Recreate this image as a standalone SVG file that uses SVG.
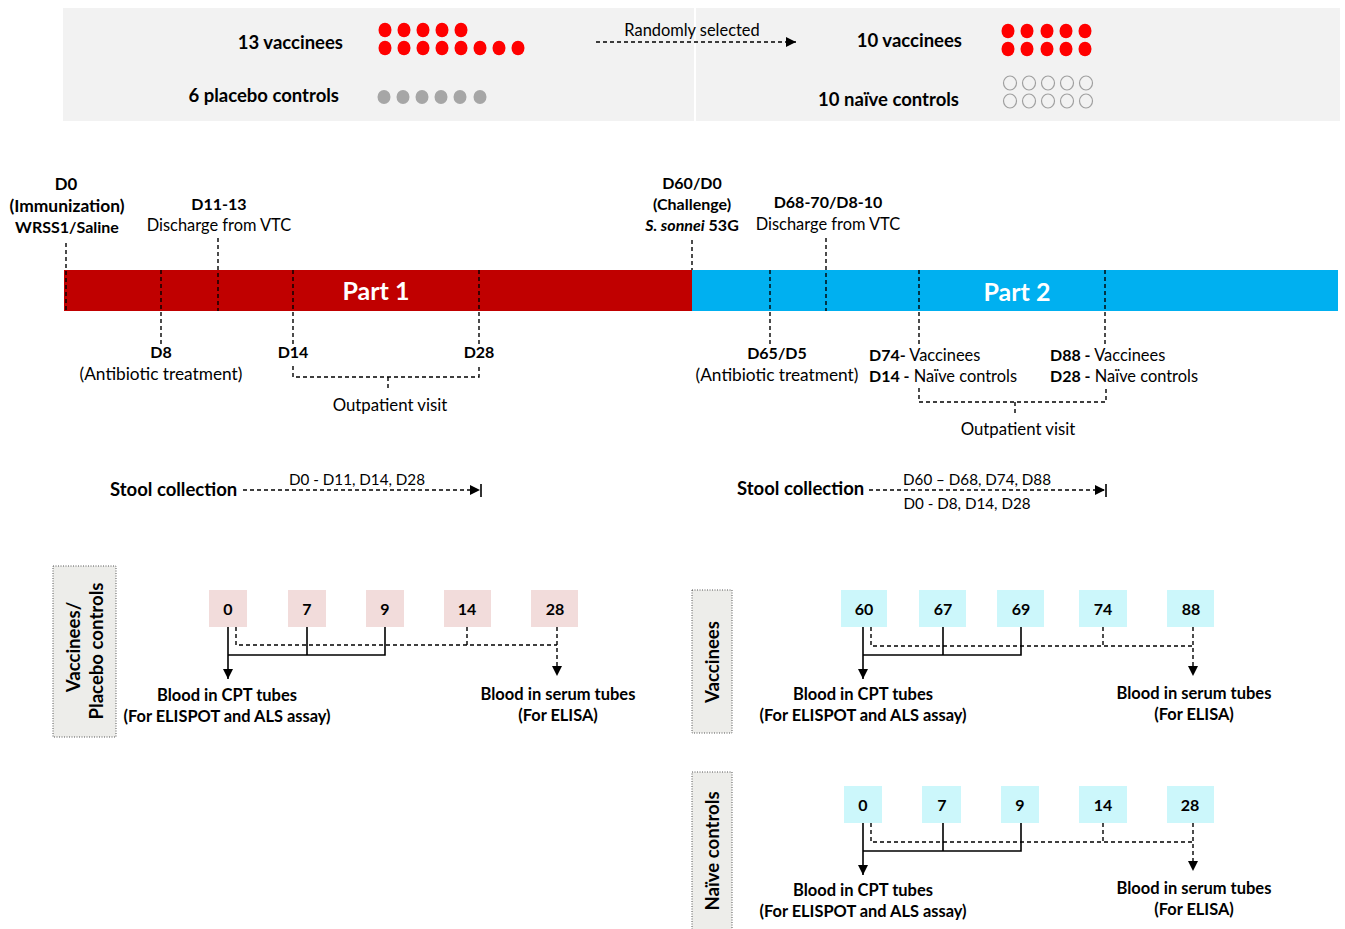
<svg xmlns="http://www.w3.org/2000/svg" width="1345" height="929" viewBox="0 0 1345 929">
<defs>
<style>
text{font-family:Lato,"Open Sans","Liberation Sans",sans-serif;fill:#000}
.b{font-weight:bold;font-size:16px}
.bl{font-weight:bold;font-size:18.5px}
.r{font-size:16.4px}
.s{font-size:15.2px}
.mid{text-anchor:middle}
.end{text-anchor:end}
.dash{stroke:#000;stroke-width:1.4;stroke-dasharray:4 3;fill:none}
.sol{stroke:#000;stroke-width:1.6;fill:none}
.red{fill:#ff0000}
.gry{fill:#a6a6a6}
.open{fill:none;stroke:#a0a0a0;stroke-width:1.2}
.lab{fill:#ededea;stroke:#555;stroke-width:1;stroke-dasharray:1 1.5}
.pk{fill:#f2dcdb}
.cy{fill:#ccf7fb}
</style>
<marker id="ah" viewBox="0 0 10 10" refX="10" refY="5" markerWidth="10" markerHeight="10" markerUnits="userSpaceOnUse" orient="auto">
<path d="M0,0 L10,5 L0,10 z" fill="#000" stroke="none"/>
</marker>
</defs>
<rect width="1345" height="929" fill="#fff"/>

<g id="top-panel">
<rect x="63" y="8" width="1277" height="113" fill="#f2f2f2"/>
<line x1="695" y1="8" x2="695" y2="121" stroke="#fff" stroke-width="2"/>
<text class="bl end" x="343" y="49">13 vaccinees</text>
<text class="bl end" x="339" y="102">6 placebo controls</text>
<g class="red">
<ellipse cx="385" cy="30" rx="6.5" ry="7.3"/><ellipse cx="404" cy="30" rx="6.5" ry="7.3"/><ellipse cx="423" cy="30" rx="6.5" ry="7.3"/><ellipse cx="442" cy="30" rx="6.5" ry="7.3"/><ellipse cx="461" cy="30" rx="6.5" ry="7.3"/>
<ellipse cx="385" cy="48" rx="6.5" ry="7.3"/><ellipse cx="404" cy="48" rx="6.5" ry="7.3"/><ellipse cx="423" cy="48" rx="6.5" ry="7.3"/><ellipse cx="442" cy="48" rx="6.5" ry="7.3"/><ellipse cx="461" cy="48" rx="6.5" ry="7.3"/><ellipse cx="480" cy="48" rx="6.5" ry="7.3"/><ellipse cx="499" cy="48" rx="6.5" ry="7.3"/><ellipse cx="518" cy="48" rx="6.5" ry="7.3"/>
</g>
<g class="gry">
<ellipse cx="384" cy="97" rx="6.5" ry="7"/><ellipse cx="403" cy="97" rx="6.5" ry="7"/><ellipse cx="422" cy="97" rx="6.5" ry="7"/><ellipse cx="441" cy="97" rx="6.5" ry="7"/><ellipse cx="460" cy="97" rx="6.5" ry="7"/><ellipse cx="480" cy="97" rx="6.5" ry="7"/>
</g>
<text class="r mid" x="692" y="36">Randomly selected</text>
<text class="bl end" x="962" y="47">10 vaccinees</text>
<text class="bl end" x="959" y="106">10 naïve controls</text>
<g class="red">
<ellipse cx="1008" cy="31" rx="6.5" ry="7.3"/><ellipse cx="1027" cy="31" rx="6.5" ry="7.3"/><ellipse cx="1047" cy="31" rx="6.5" ry="7.3"/><ellipse cx="1066" cy="31" rx="6.5" ry="7.3"/><ellipse cx="1085" cy="31" rx="6.5" ry="7.3"/>
<ellipse cx="1008" cy="49" rx="6.5" ry="7.3"/><ellipse cx="1027" cy="49" rx="6.5" ry="7.3"/><ellipse cx="1047" cy="49" rx="6.5" ry="7.3"/><ellipse cx="1066" cy="49" rx="6.5" ry="7.3"/><ellipse cx="1085" cy="49" rx="6.5" ry="7.3"/>
</g>
<g class="open">
<ellipse cx="1010" cy="83" rx="6.5" ry="7"/><ellipse cx="1029" cy="83" rx="6.5" ry="7"/><ellipse cx="1048" cy="83" rx="6.5" ry="7"/><ellipse cx="1067" cy="83" rx="6.5" ry="7"/><ellipse cx="1086" cy="83" rx="6.5" ry="7"/>
<ellipse cx="1010" cy="101" rx="6.5" ry="7"/><ellipse cx="1029" cy="101" rx="6.5" ry="7"/><ellipse cx="1048" cy="101" rx="6.5" ry="7"/><ellipse cx="1067" cy="101" rx="6.5" ry="7"/><ellipse cx="1086" cy="101" rx="6.5" ry="7"/>
</g>
</g>

<g id="timeline">
<rect x="64" y="270" width="628" height="41" fill="#c00000"/>
<rect x="692" y="270" width="646" height="41" fill="#00b0f0"/>
<text class="mid" x="376" y="300" style="font-weight:bold;font-size:25px;fill:#fff">Part 1</text>
<text class="mid" x="1017" y="301" style="font-weight:bold;font-size:25px;fill:#fff">Part 2</text>
</g>

<g id="labels-part1">
<text class="b mid" x="66" y="190" style="font-size:16.8px">D0</text>
<text class="b mid" x="67" y="212" style="font-size:17.4px">(Immunization)</text>
<text class="b mid" x="67" y="233">WRSS1/Saline</text>
<text class="b mid" x="219" y="210">D11-13</text>
<text class="r mid" x="219" y="231">Discharge from VTC</text>
<text class="b mid" x="161" y="358">D8</text>
<text class="r mid" x="161" y="380" style="font-size:17.3px">(Antibiotic treatment)</text>
<text class="b mid" x="293" y="358">D14</text>
<text class="b mid" x="479" y="358">D28</text>
<text class="r mid" x="390" y="411" style="font-size:16.8px">Outpatient visit</text>
</g>

<g id="labels-part2">
<text class="b mid" x="692" y="189">D60/D0</text>
<text class="b mid" x="692" y="210">(Challenge)</text>
<text class="b mid" x="692" y="231"><tspan font-style="italic">S. sonnei</tspan> 53G</text>
<text class="b mid" x="828" y="208">D68-70/D8-10</text>
<text class="r mid" x="828" y="230">Discharge from VTC</text>
<text class="b mid" x="777" y="359">D65/D5</text>
<text class="r mid" x="777" y="381" style="font-size:17.3px">(Antibiotic treatment)</text>
<text x="869" y="361"><tspan class="b">D74-</tspan><tspan class="r"> Vaccinees</tspan></text>
<text x="869" y="382"><tspan class="b">D14 -</tspan><tspan class="r"> Naïve controls</tspan></text>
<text x="1050" y="361"><tspan class="b">D88 -</tspan><tspan class="r"> Vaccinees</tspan></text>
<text x="1050" y="382"><tspan class="b">D28 -</tspan><tspan class="r"> Naïve controls</tspan></text>
<text class="r mid" x="1018" y="435" style="font-size:16.8px">Outpatient visit</text>
</g>

<g id="stool">
<text class="bl" x="110" y="496">Stool collection</text>
<text class="s mid" x="357" y="485">D0 - D11, D14, D28</text>
<text class="bl" x="737" y="495">Stool collection</text>
<text class="s mid" x="977" y="485">D60 – D68, D74, D88</text>
<text class="s mid" x="967" y="509">D0 - D8, D14, D28</text>
</g>

<g id="group-vaccinees-placebo">
<rect class="lab" x="53" y="566" width="63" height="171"/>
<text class="mid" transform="translate(80,647) rotate(-90)" style="font-weight:bold;font-size:18.6px">Vaccinees/</text>
<text class="mid" transform="translate(103,651) rotate(-90)" style="font-weight:bold;font-size:18.6px">Placebo controls</text>
<rect class="pk" x="209" y="590" width="38" height="37"/>
<rect class="pk" x="288" y="590" width="38" height="37"/>
<rect class="pk" x="366" y="590" width="38" height="37"/>
<rect class="pk" x="444" y="590" width="47" height="37"/>
<rect class="pk" x="531" y="590" width="47" height="37"/>
<text class="b mid" x="228" y="615">0</text>
<text class="b mid" x="307" y="615">7</text>
<text class="b mid" x="385" y="615">9</text>
<text class="b mid" x="467" y="615">14</text>
<text class="b mid" x="555" y="615">28</text>
<text class="b mid" x="227" y="701" style="font-size:16.5px">Blood in CPT tubes</text>
<text class="b mid" x="227" y="722" style="font-size:16.4px">(For ELISPOT and ALS assay)</text>
<text class="b mid" x="558" y="700" style="font-size:16.5px">Blood in serum tubes</text>
<text class="b mid" x="558" y="721" style="font-size:16.4px">(For ELISA)</text>
</g>

<g id="group-vaccinees">
<rect class="lab" x="692" y="590" width="40" height="143"/>
<text class="mid" transform="translate(719,662) rotate(-90)" style="font-weight:bold;font-size:18.6px">Vaccinees</text>
<rect class="cy" x="841" y="590" width="46" height="37"/>
<rect class="cy" x="919" y="590" width="47" height="37"/>
<rect class="cy" x="997" y="590" width="47" height="37"/>
<rect class="cy" x="1079" y="590" width="48" height="37"/>
<rect class="cy" x="1167" y="590" width="47" height="37"/>
<text class="b mid" x="864" y="615">60</text>
<text class="b mid" x="943" y="615">67</text>
<text class="b mid" x="1021" y="615">69</text>
<text class="b mid" x="1103" y="615">74</text>
<text class="b mid" x="1191" y="615">88</text>
<text class="b mid" x="863" y="700" style="font-size:16.5px">Blood in CPT tubes</text>
<text class="b mid" x="863" y="721" style="font-size:16.4px">(For ELISPOT and ALS assay)</text>
<text class="b mid" x="1194" y="699" style="font-size:16.5px">Blood in serum tubes</text>
<text class="b mid" x="1194" y="720" style="font-size:16.4px">(For ELISA)</text>
</g>

<g id="group-naive">
<rect class="lab" x="692" y="772" width="40" height="170"/>
<text class="mid" transform="translate(719,851) rotate(-90)" style="font-weight:bold;font-size:18.6px">Naïve controls</text>
<rect class="cy" x="844" y="786" width="38" height="37"/>
<rect class="cy" x="922" y="786" width="39" height="37"/>
<rect class="cy" x="1001" y="786" width="38" height="37"/>
<rect class="cy" x="1079" y="786" width="48" height="37"/>
<rect class="cy" x="1167" y="786" width="47" height="37"/>
<text class="b mid" x="863" y="811">0</text>
<text class="b mid" x="942" y="811">7</text>
<text class="b mid" x="1020" y="811">9</text>
<text class="b mid" x="1103" y="811">14</text>
<text class="b mid" x="1190" y="811">28</text>
<text class="b mid" x="863" y="896" style="font-size:16.5px">Blood in CPT tubes</text>
<text class="b mid" x="863" y="917" style="font-size:16.4px">(For ELISPOT and ALS assay)</text>
<text class="b mid" x="1194" y="894" style="font-size:16.5px">Blood in serum tubes</text>
<text class="b mid" x="1194" y="915" style="font-size:16.4px">(For ELISA)</text>
</g>

<g id="connectors">
<line class="dash" x1="596" y1="42" x2="796" y2="42" marker-end="url(#ah)"/>
<line class="dash" x1="66" y1="243" x2="66" y2="311"/>
<line class="dash" x1="161" y1="270" x2="161" y2="344"/>
<line class="dash" x1="218" y1="238" x2="218" y2="311"/>
<line class="dash" x1="293" y1="270" x2="293" y2="344"/>
<line class="dash" x1="479" y1="270" x2="479" y2="344"/>
<line class="dash" x1="692" y1="240" x2="692" y2="270"/>
<line class="dash" x1="770" y1="270" x2="770" y2="344"/>
<line class="dash" x1="826" y1="238" x2="826" y2="311"/>
<line class="dash" x1="919" y1="270" x2="919" y2="344"/>
<line class="dash" x1="1105" y1="270" x2="1105" y2="344"/>
<path class="dash" d="M293,366 V377 H479 V366 M388,377 V391"/>
<path class="dash" d="M919,388 V402 H1106 V388 M1015,402 V414"/>
<line class="dash" x1="243" y1="490" x2="480" y2="490" marker-end="url(#ah)"/>
<line class="sol" x1="481" y1="484" x2="481" y2="497"/>
<line class="dash" x1="869" y1="490" x2="1105" y2="490" marker-end="url(#ah)"/>
<line class="sol" x1="1106" y1="484" x2="1106" y2="497"/>
<line class="sol" x1="228" y1="627" x2="228" y2="679" marker-end="url(#ah)"/>
<path class="sol" d="M228,655 H385 V627 M307,627 V655"/>
<path class="dash" d="M236,627 V645 H557 M467,627 V645"/>
<line class="dash" x1="557" y1="627" x2="557" y2="676" marker-end="url(#ah)"/>
<line class="sol" x1="863" y1="627" x2="863" y2="679" marker-end="url(#ah)"/>
<path class="sol" d="M863,655 H1021 V627 M943,627 V655"/>
<path class="dash" d="M871,627 V646 H1193 M1103,627 V646"/>
<line class="dash" x1="1193" y1="627" x2="1193" y2="676" marker-end="url(#ah)"/>
<line class="sol" x1="863" y1="823" x2="863" y2="875" marker-end="url(#ah)"/>
<path class="sol" d="M863,851 H1021 V823 M943,823 V851"/>
<path class="dash" d="M871,823 V842 H1193 M1103,823 V842"/>
<line class="dash" x1="1193" y1="823" x2="1193" y2="871" marker-end="url(#ah)"/>
</g>
</svg>
